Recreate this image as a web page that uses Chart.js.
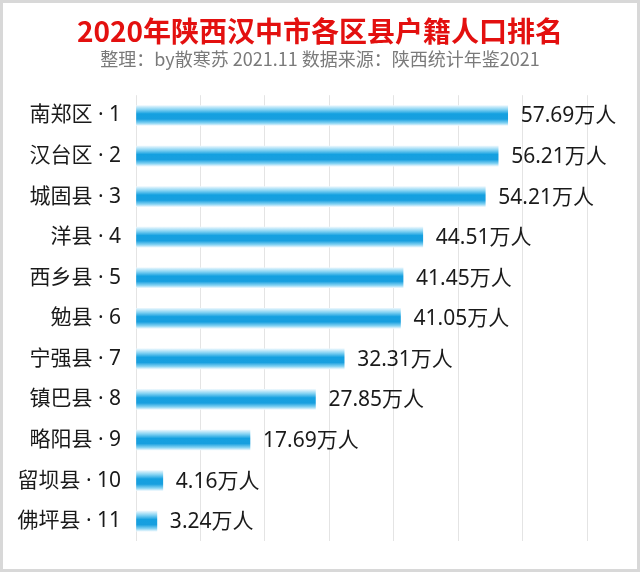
<!DOCTYPE html>
<html>
<head>
<meta charset="utf-8">
<script src="https://cdn.jsdelivr.net/npm/chart.js@4"></script>
<style>
    body { margin: 0; background: #fff; }
    #frame {
        width: 640px;
        height: 572px;
        box-sizing: border-box;
        border: 3px solid #d8d8d8;
        background: #fff;
    }
    canvas { display: block; }
</style>
</head>
<body>
<div id="frame">
    <canvas id="popChart" width="634" height="566"></canvas>
</div>
<script>
// Data
const districts = ['南郑区 · 1', '汉台区 · 2', '城固县 · 3', '洋县 · 4', '西乡县 · 5', '勉县 · 6',
    '宁强县 · 7', '镇巴县 · 8', '略阳县 · 9', '留坝县 · 10', '佛坪县 · 11'];
const population = [57.69, 56.21, 54.21, 44.51, 41.45, 41.05, 32.31, 27.85, 17.69, 4.16, 3.24];
const unitLabel = '万人';

const titleText = '2020年陕西汉中市各区县户籍人口排名';
const subtitleText = '整理：by散寒苏 2021.11 数据来源：陕西统计年鉴2021';

const BAR_THICKNESS = 20;
const FONT = '"Noto Sans CJK SC", "Noto Sans", sans-serif';
const LABEL_FONT = '"Noto Sans", "Noto Sans CJK SC", sans-serif';

// Vertical gradient across each bar (light edges, strong blue middle)
function barGradient(context) {
    const chart = context.chart;
    const yScale = chart.scales.y;
    if (!yScale || context.dataIndex === undefined) return '#18a2e0';
    const cy = yScale.getPixelForValue(context.dataIndex);
    if (!isFinite(cy)) return '#18a2e0';
    const top = cy - BAR_THICKNESS / 2;
    const g = chart.ctx.createLinearGradient(0, top, 0, top + BAR_THICKNESS);
    g.addColorStop(0, '#e8f6fd');
    g.addColorStop(0.2, '#86d3f3');
    g.addColorStop(0.42, '#14a0e0');
    g.addColorStop(0.68, '#189fdf');
    g.addColorStop(0.88, '#86d3f3');
    g.addColorStop(1, '#e8f6fd');
    return g;
}

// Value labels at the end of each bar
const valueLabels = {
    id: 'valueLabels',
    afterDatasetsDraw(chart) {
        const ctx = chart.ctx;
        const meta = chart.getDatasetMeta(0);
        ctx.save();
        ctx.font = '21px ' + LABEL_FONT;
        ctx.fillStyle = '#1a1a1a';
        ctx.textAlign = 'left';
        ctx.textBaseline = 'middle';
        meta.data.forEach(function(bar, i) {
            ctx.fillText(population[i].toFixed(2) + unitLabel, bar.x + 13, bar.y + 1);
        });
        ctx.restore();
    }
};

const ctx = document.getElementById('popChart').getContext('2d');
new Chart(ctx, {
    type: 'bar',
    data: {
        labels: districts,
        datasets: [{
            data: population,
            backgroundColor: barGradient,
            borderWidth: 0,
            barThickness: BAR_THICKNESS
        }]
    },
    options: {
        indexAxis: 'y',
        responsive: false,
        animation: false,
        layout: {
            padding: { left: 0, right: 0, bottom: 16, top: 0 }
        },
        scales: {
            x: {
                min: 0,
                max: 70,
                ticks: { display: false, stepSize: 10 },
                grid: { color: '#e4e4e4', lineWidth: 1, drawTicks: false },
                border: { display: false }
            },
            y: {
                grid: { display: false, drawTicks: false },
                border: { display: false },
                ticks: {
                    color: '#1a1a1a',
                    padding: 15,
                    font: { size: 21, family: LABEL_FONT }
                },
                afterFit: function(scale) {
                    scale.width = 133;
                }
            },
            // empty right-hand axis that keeps room for the value labels
            yRight: {
                type: 'category',
                position: 'right',
                grid: { display: false, drawTicks: false },
                border: { display: false },
                ticks: { display: false },
                afterFit: function(scale) {
                    scale.width = 50;
                }
            }
        },
        plugins: {
            legend: { display: false },
            tooltip: { enabled: false },
            title: {
                display: true,
                text: titleText,
                color: '#e3100f',
                font: { size: 28, weight: 'bold', family: FONT },
                padding: { top: 12, bottom: 0 }
            },
            subtitle: {
                display: true,
                text: subtitleText,
                color: '#7a7a7a',
                font: { size: 18, family: FONT },
                padding: { top: 0, bottom: 25 }
            }
        }
    },
    plugins: [valueLabels]
});
</script>
</body>
</html>
